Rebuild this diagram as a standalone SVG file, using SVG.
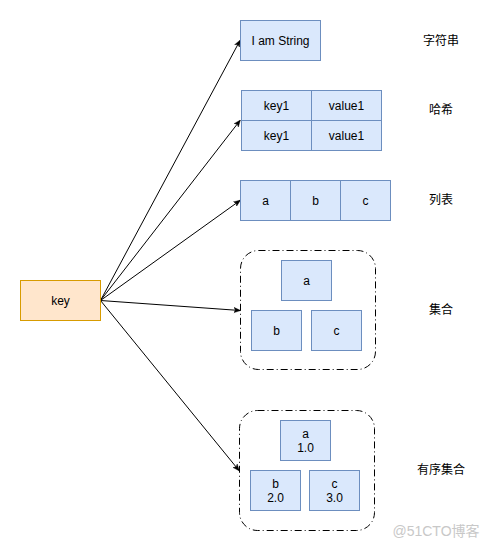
<svg xmlns="http://www.w3.org/2000/svg" width="496" height="551" viewBox="0 0 496 551">
<style>
.b{fill:#dae8fc;stroke:#6c8ebf;stroke-width:1}
.k{fill:#ffe6cc;stroke:#d79b00;stroke-width:1}
.g{fill:none;stroke:#000;stroke-width:1;stroke-dasharray:7 3 1 3}
.t{font-family:"Liberation Sans",Arial,sans-serif;font-size:12px;fill:#000;text-anchor:middle;dominant-baseline:central}
.c{font-family:"Liberation Sans","Noto Sans CJK SC",sans-serif;font-size:12px;fill:#000;text-anchor:middle;dominant-baseline:central}
.e{fill:none;stroke:#000;stroke-width:1}
</style>
<defs>
<marker id="a" viewBox="0 0 10 10" refX="9" refY="5" markerWidth="7" markerHeight="7" orient="auto" markerUnits="userSpaceOnUse">
<path d="M0,1 L10,5 L0,9 L2.5,5 Z" fill="#000" stroke="#000" stroke-width="0.5"/>
</marker>
</defs>
<rect width="496" height="551" fill="#fff"/>
<g id="connectors">
<path class="e" d="M100.5,300.5 L240,40.5" marker-end="url(#a)"/>
<path class="e" d="M100.5,300.5 L240,120.5" marker-end="url(#a)"/>
<path class="e" d="M100.5,300.5 L240,200.5" marker-end="url(#a)"/>
<path class="e" d="M100.5,300.5 L240,310.5" marker-end="url(#a)"/>
<path class="e" d="M100.5,300.5 L239,470.5" marker-end="url(#a)"/>
</g>
<g id="key">
<rect class="k" x="20.5" y="280.5" width="80" height="40"/>
<text class="t" x="60.5" y="300.5">key</text>
</g>
<g id="string">
<rect class="b" x="240.5" y="20.5" width="80" height="40"/>
<text class="t" x="280.5" y="40.5">I am String</text>
</g>
<g id="hash">
<rect class="b" x="241.5" y="90.5" width="70" height="30"/>
<rect class="b" x="311.5" y="90.5" width="70" height="30"/>
<rect class="b" x="241.5" y="120.5" width="70" height="30"/>
<rect class="b" x="311.5" y="120.5" width="70" height="30"/>
<text class="t" x="276.5" y="105.5">key1</text>
<text class="t" x="346.5" y="105.5">value1</text>
<text class="t" x="276.5" y="135.5">key1</text>
<text class="t" x="346.5" y="135.5">value1</text>
</g>
<g id="list">
<rect class="b" x="240.5" y="180.5" width="50" height="40"/>
<rect class="b" x="290.5" y="180.5" width="50" height="40"/>
<rect class="b" x="340.5" y="180.5" width="50" height="40"/>
<text class="t" x="265.5" y="200.5">a</text>
<text class="t" x="315.5" y="200.5">b</text>
<text class="t" x="365.5" y="200.5">c</text>
</g>
<g id="set">
<rect class="g" x="240.5" y="250.5" width="135" height="119" rx="18" ry="18"/>
<rect class="b" x="281.5" y="260.5" width="50" height="40"/>
<rect class="b" x="251.5" y="310.5" width="50" height="40"/>
<rect class="b" x="311.5" y="310.5" width="50" height="40"/>
<text class="t" x="306.5" y="280.5">a</text>
<text class="t" x="276.5" y="330.5">b</text>
<text class="t" x="336.5" y="330.5">c</text>
</g>
<g id="zset">
<rect class="g" x="239.5" y="410.5" width="135" height="120" rx="18" ry="18"/>
<rect class="b" x="280.5" y="420.5" width="50" height="40"/>
<rect class="b" x="250.5" y="470.5" width="50" height="40"/>
<rect class="b" x="309.5" y="470.5" width="50" height="40"/>
<text class="t" x="305.5" y="433.5">a</text>
<text class="t" x="305.5" y="447.5">1.0</text>
<text class="t" x="275.5" y="483.5">b</text>
<text class="t" x="275.5" y="497.5">2.0</text>
<text class="t" x="334.5" y="483.5">c</text>
<text class="t" x="334.5" y="497.5">3.0</text>
</g>
<g id="labels">
<text class="c" x="441" y="41">字符串</text>
<text class="c" x="441" y="110">哈希</text>
<text class="c" x="441" y="200">列表</text>
<text class="c" x="441" y="310">集合</text>
<text class="c" x="441" y="470">有序集合</text>
</g>
<text x="436" y="531" font-family="Liberation Sans,'Noto Sans CJK SC',sans-serif" font-size="14" fill="#c8c8c8" text-anchor="middle" dominant-baseline="central">@51CTO博客</text>
</svg>
